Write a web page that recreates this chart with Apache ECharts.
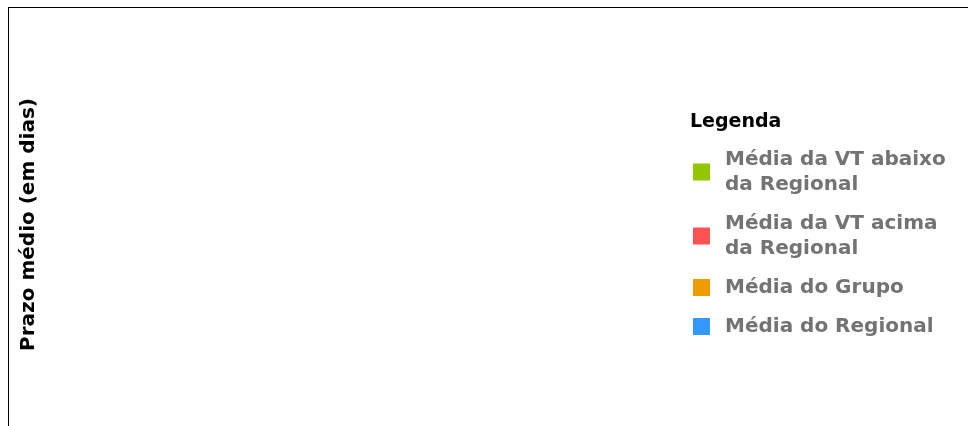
<!DOCTYPE html>
<html>
<head>
<meta charset="utf-8">
<script src="https://cdn.jsdelivr.net/npm/echarts@6/dist/echarts.min.js"></script>
<style>
  html, body { margin: 0; padding: 0; background: #fff; }
  #frame {
    position: absolute; left: 8px; top: 7px; width: 960px; height: 419px;
    border-top: 1px solid #000; border-left: 1px solid #000;
  }
  #chart { width: 100%; height: 100%; }
</style>
</head>
<body>
<div id="frame"><div id="chart"></div></div>
<script>
// no data in the chart, only legend
var categories = [];
var seriesNames = [
    'Média da VT abaixo\nda Regional',
    'Média da VT acima\nda Regional',
    'Média do Grupo',
    'Média do Regional'
];
var seriesColors = ['#94c600', '#ff5353', '#f29b00', '#3399ff'];
var valuesAbaixo = [];
var valuesAcima = [];
var valuesGrupo = [];
var valuesRegional = [];
var seriesValues = [valuesAbaixo, valuesAcima, valuesGrupo, valuesRegional];

var chart = echarts.init(document.getElementById('chart'));

var series = seriesNames.map(function(name, i) {
    return {
        name: name,
        type: 'bar',
        data: seriesValues[i],
        itemStyle: { color: seriesColors[i] }
    };
});

chart.setOption({
    animation: false,
    textStyle: { fontFamily: 'DejaVu Sans' },
    title: {
        text: 'Legenda',
        left: 676,
        top: 100,
        textStyle: { fontFamily: 'DejaVu Sans', fontWeight: 'bold', fontSize: 19, color: '#000' }
    },
    legend: {
        orient: 'vertical',
        left: 679,
        top: 134,
        icon: 'rect',
        itemWidth: 17,
        itemHeight: 17,
        itemGap: 14,
        selectedMode: false,
        textStyle: {
            fontFamily: 'DejaVu Sans', fontWeight: 'bold', fontSize: 20,
            color: '#737373', lineHeight: 25, padding: [0, 0, 0, 10]
        },
        data: seriesNames
    },
    grid: { left: 60, right: 320, top: 37, bottom: 23 },
    xAxis: {
        type: 'category',
        data: categories,
        axisLine: { show: false },
        axisTick: { show: false },
        axisLabel: { show: false }
    },
    yAxis: {
        type: 'value',
        name: 'Prazo médio (em dias)',
        nameLocation: 'middle',
        nameRotate: 90,
        nameGap: 30,
        nameTextStyle: { fontFamily: 'DejaVu Sans', fontWeight: 'bold', fontSize: 20, color: '#000' },
        axisLine: { show: false },
        axisTick: { show: false },
        axisLabel: { show: false },
        splitLine: { show: false }
    },
    series: series
});
</script>
</body>
</html>
